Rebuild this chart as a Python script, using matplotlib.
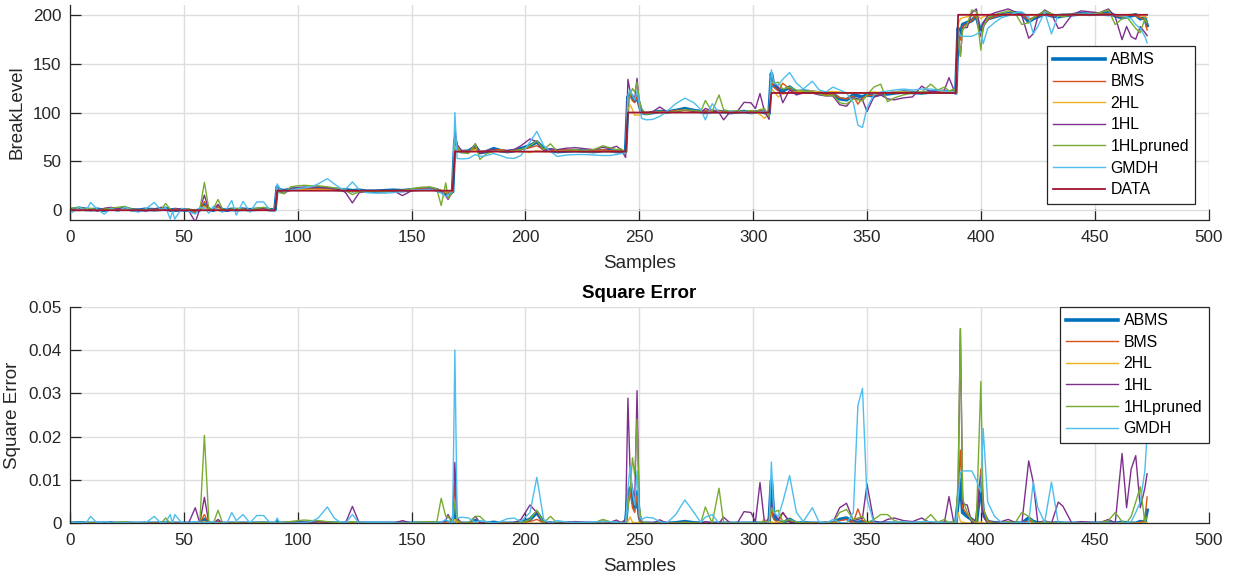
import numpy as np
import matplotlib
matplotlib.use('Agg')
import matplotlib.pyplot as plt

plt.rcParams['font.family'] = ['Liberation Sans', 'DejaVu Sans']

samples = np.array([
    1, 4, 7, 9, 12, 15, 18, 21, 24, 27, 30, 33, 37, 40, 42, 44, 45, 46, 49, 52,
    55, 57, 59, 61, 63, 65, 67, 69, 71, 73, 76, 79, 82, 85, 88, 90,
    91, 92, 94, 97, 100, 103, 106, 109, 113, 116, 119, 121, 124, 127, 130, 134,
    138, 142, 146, 150, 154, 158, 161, 163, 165, 166, 168,
    169, 170, 172, 175, 178, 180, 183, 186, 189, 192, 195, 198, 202, 205, 208,
    211, 214, 218, 222, 226, 230, 234, 237, 240, 242, 244,
    245, 246, 247, 248, 249, 250, 251, 253, 256, 259, 262, 266, 270, 274, 277,
    279, 282, 285, 287, 290, 293, 296, 299, 301, 303, 305, 307,
    308, 309, 311, 313, 316, 319, 322, 326, 329, 332, 335, 338, 341, 344, 346,
    348, 350, 353, 356, 359, 362, 366, 370, 374, 378, 381, 384, 386, 388, 389,
    390, 391, 392, 394, 396, 398, 400, 401, 403, 406, 409, 412, 415, 418, 421,
    423, 425, 428, 431, 434, 436, 440, 444, 448, 452, 456, 459, 462, 464, 466,
    468, 470, 472, 473])

# true break level: step levels and the sample where each starts
data_starts = [1, 91, 169, 245, 308, 390]
data_levels = [0, 20, 60, 100, 120, 200]

abms = [
    1, 2, 1, 0.5, 1, 0, 1.5, 0.5, 2, 0.5, 0, 1, 0.5, 1, 2, 0, 0.5, 0, 0.5, 0,
    -1, 0.5, 6, 1, 0, 3, 0.5, 0, 1, 0.5, 1, 0.5, 1, 1.5, 0.5, 0.5,
    24, 21, 20, 21.5, 22, 22.5, 22, 22.5, 22, 21.5, 21, 21, 20, 20.5, 19.5, 19.5,
    20, 20.5, 20, 21, 21.5, 22, 21, 19, 16, 17, 19,
    72, 62, 60, 60.5, 65, 59, 60, 63, 61, 60, 61, 63, 66, 70, 63,
    61, 60, 60.5, 61, 60.5, 60, 61, 61, 60, 60, 60,
    116, 118, 115, 112, 117, 108, 100, 99, 100, 101, 100.5, 102, 104, 102, 101,
    100, 101, 101, 100.5, 100, 100.5, 101, 100, 100.5, 101, 100, 99,
    139.8, 128, 124, 122, 126, 121, 122, 121, 120, 119, 119, 114, 113, 118, 117,
    116, 118, 117, 119, 119, 120, 121, 120.5, 120, 121, 121, 121, 121, 121, 120,
    186, 180, 190, 192, 194, 199, 180.5, 190, 196, 198, 200, 201, 202, 201, 193,
    196, 198, 201, 199, 198, 199, 200, 201, 200.5, 201, 202, 199, 197, 198, 199,
    200, 196, 197, 189]

bms = [
    0.5, 1, 0, 1, 0.5, 1, 0, 1, 0.5, 1, 0, 0.5, 1, 0, 1, 0.5, 0, 0.5, 0, 1,
    -2, 0, 9, 0.5, 1, 4, 0, 1, 0.5, 0, 1, 0, 0.5, 1, 0, 0.5,
    22, 20, 19, 21, 21.5, 22, 21.5, 22, 21.5, 22, 21, 20.5, 19, 20, 19.5, 20,
    19.5, 20, 20.5, 21, 22, 22.5, 21.5, 20, 17, 18, 20,
    79, 63, 61, 60, 64, 60, 61, 62, 62, 61, 61.5, 62, 64, 66, 62,
    61, 61.5, 62, 61, 60.5, 61, 62, 61, 60.5, 60, 59,
    113, 117, 112, 110, 116, 106, 101, 100, 100.5, 101, 101, 102, 103, 101.5, 101,
    102, 101, 102, 100.5, 100, 100, 101, 100.5, 101, 102, 100, 99,
    132, 126, 122, 130, 124, 120, 122, 120.5, 119, 118.5, 119, 115, 114, 117, 108.5,
    115, 117, 118, 119, 120, 120, 121, 120.5, 120, 121, 121.5, 121, 122, 121, 120,
    184, 174, 188, 191, 194, 200, 177.6, 188, 195, 198, 200, 201, 200, 200, 195,
    197, 199, 200, 199, 199, 200, 200.5, 200, 201, 200.5, 201, 199, 198, 199, 200,
    199, 197, 195, 184.4]

hl2 = [
    0, 0.5, 1, 0, 0.5, 0, 0.5, 0, 1, 0, 0.5, 0, 0.5, 0, 1, 0, 0.5, 0, 0.5, 0,
    0, 0.5, 4, 0, 0.5, 2, 0, 0.5, 0, 0.5, 0, 0.5, 0, 0.5, 0, 0,
    21, 20, 20, 20.5, 21, 21, 21.5, 21, 21, 20.5, 20.5, 20, 20, 20, 19.5, 20,
    20, 20, 20, 20.5, 20.5, 21, 21, 20.5, 19, 19.5, 20,
    66, 61, 60, 60, 62, 60, 60.5, 61, 60.5, 60, 60.5, 60, 59, 61, 60,
    60, 60.5, 61, 60.5, 60, 60, 60.5, 60, 60, 60.5, 60,
    104, 107.7, 103, 97, 98, 97, 99.5, 100, 100, 100, 100, 101, 102, 101, 100.5,
    100, 100.5, 101, 100, 100.5, 100, 100.5, 100, 100, 98, 94, 100,
    124, 122, 116, 119, 120, 121, 121.5, 122, 121, 121, 121.5, 121, 120, 120.5, 120,
    120, 120.5, 121, 120.5, 120, 121, 121, 120.5, 121, 120.5, 121, 121, 121.5, 121, 120,
    190, 196, 197, 198, 199, 200, 196, 198, 199, 200, 200, 200.5, 200, 200.5, 199,
    200, 200, 200.5, 200, 200, 200, 200.5, 200, 200, 200.5, 200, 200, 199, 200, 200.5,
    200, 199, 198, 197]

hl1 = [
    1, 2, 0, 1, -1, 2, 3, 1, 3, 0, 1, -1, 1, 3, 0, 1, 0, 2, 1, 0,
    -12, 1, 15.5, 0, 1, 6, 0, 1, 0, 1, 2, 0, 1, 2, 0, 1,
    23, 19, 17, 22, 23, 23.5, 23, 24, 23, 22, 21, 18, 7.5, 18, 19, 20,
    19, 20, 15, 20, 21, 22, 21, 20, 15, 11, 19,
    83.7, 67, 61, 59, 68, 58, 61, 62, 60, 61, 62, 66, 73, 70, 61,
    63, 62, 63.5, 64, 63, 62, 64.5, 63, 65.5, 62, 54,
    134, 121, 118, 114, 135, 110, 102, 99, 101, 105.7, 101, 100, 103, 101, 100,
    104, 102, 100, 92.5, 101, 101, 110.4, 110, 104, 119.4, 101, 93,
    134, 130, 126, 110, 123, 118, 120, 120, 118, 117, 117, 108, 106.4, 115, 114,
    113, 101, 116, 118, 114, 113, 115, 116, 127, 121, 122, 123, 135.7, 124, 121,
    182, 157.6, 186.5, 187, 202, 206, 179, 192, 199, 202, 204, 206, 203, 199, 176,
    180.5, 198, 205, 201, 186, 187.4, 200, 204, 203, 202, 206, 198, 174.6, 188, 177.6,
    175, 188, 182, 178.6]

hl1_pruned = [
    2, 3, 1, 2, 0, 1, 2, 3, 4, 1, 0, 1, 0, 1, 7, 1, 0, 1, 0, 1,
    0, 1, 28.5, 1, 2, 11, 1, 0, 1, 2, 1, 0, 2, 3, 1, 0,
    22, 18, 17, 24, 25, 25.5, 25, 25, 24, 23, 22, 20, 16, 19, 19, 19.5,
    19, 20, 20, 22, 23.5, 24, 22, 4.8, 28, 12, 19,
    74, 65, 59, 58, 68, 52, 58, 60, 61, 60, 61, 62, 66, 71, 62,
    68, 60, 61, 62, 61, 62, 66, 64, 62, 63, 58,
    112, 118, 124.6, 121, 131, 112, 104, 98, 100, 101, 100, 101, 103, 102, 101,
    112.3, 101, 118, 103, 101, 102, 101, 102, 101, 103, 104, 96,
    132, 130, 131, 124, 126, 123, 122, 121, 119, 117, 118, 110, 108.7, 114, 113,
    112, 118, 126, 129, 111, 115, 118, 120, 121, 129, 123, 126, 122, 124, 121,
    180, 157.6, 185, 190, 205, 203, 163.8, 188, 197, 200, 202, 204, 202, 190, 192,
    197, 200, 204, 201, 199, 198, 200, 201, 200.5, 202, 205, 190, 196, 198, 192,
    186, 181.6, 196, 192]

gmdh = [
    -2, 3, -1, 8, 1, -4, 2, -1, 3, 0, -2, 1, 8, 0, 3, -9, -1, -9, 2, -1,
    -4, 3, 2, -3, 4, 0, -2, 2, 10, -5, 9, -2, 8.5, 8.5, -1, 2,
    27, 22, 19, 21, 22, 23, 24, 27, 32.3, 27, 22, 21.5, 29, 21, 18, 17.5,
    17.5, 18, 19.5, 20.5, 21, 21.5, 20, 18, 14, 16, 20,
    100, 53, 52.5, 53, 57, 55, 56, 58, 56, 53.5, 53, 56, 70, 80.6, 66,
    60, 55, 56.5, 57, 57, 56.5, 56, 56, 57, 58, 59,
    118, 123, 117, 113, 122, 108, 94, 92.5, 93, 96, 101, 109, 114.7, 110, 103,
    92.5, 109, 100, 99, 101, 100, 101, 99.5, 100, 100.5, 101, 100,
    143.8, 130, 128, 134, 141, 130, 124, 132, 123, 121, 126, 123, 120, 110, 87,
    84.7, 105, 118, 121, 122, 123, 124, 123, 124, 124, 123, 122, 121, 121, 120,
    185, 178.4, 178, 178, 178, 180, 183, 170.4, 186, 192, 197, 199, 202, 203, 198,
    180.5, 188, 203, 180.5, 200, 201, 200, 200.5, 201, 200, 199, 200, 199, 198, 196,
    190, 186, 178, 171.4]

data = np.array(data_levels, dtype=float)[np.searchsorted(data_starts, samples, side='right') - 1]
level_range = max(data_levels) - min(data_levels)

series = [
    ('ABMS', abms, '#0072BD', 2.6),
    ('BMS', bms, '#D95319', 1.0),
    ('2HL', hl2, '#EDB120', 1.0),
    ('1HL', hl1, '#7E2F8E', 1.0),
    ('1HLpruned', hl1_pruned, '#77AC30', 1.0),
    ('GMDH', gmdh, '#4DBEEE', 1.0),
]

fig = plt.figure(figsize=(12.33, 5.71), dpi=100)
ax1 = fig.add_axes([0.0568, 0.6147, 0.9234, 0.3765])
ax2 = fig.add_axes([0.0568, 0.0835, 0.9234, 0.3793])

for name, vals, color, lw in series:
    ax1.plot(samples, vals, color=color, lw=lw, label=name)
ax1.plot(samples, data, color='#A2142F', lw=1.3, label='DATA')

for name, vals, color, lw in series:
    err = ((np.array(vals, dtype=float) - data) / level_range) ** 2
    ax2.plot(samples, err, color=color, lw=lw, label=name)

dark = '#262626'
for ax in (ax1, ax2):
    ax.set_xlim(0, 500)
    ax.set_xticks(np.arange(0, 501, 50))
    ax.grid(True, color='#dedede', lw=1.0)
    ax.set_axisbelow(True)
    for side in ('top', 'right'):
        ax.spines[side].set_visible(False)
    for side in ('left', 'bottom'):
        ax.spines[side].set_color(dark)
        ax.spines[side].set_linewidth(0.9)
    ax.tick_params(direction='in', length=8, width=0.9, colors=dark, labelsize=12.3)
    ax.tick_params(axis='x', pad=7)
    ax.tick_params(axis='y', pad=6)
    ax.set_xlabel('Samples', fontsize=13.5, color=dark)

ax1.set_ylim(-10, 210)
ax1.set_yticks(np.arange(0, 201, 50))
ax1.set_ylabel('BreakLevel', fontsize=13.5, color=dark)
ax1.xaxis.set_label_coords(0.5, -0.165)
ax1.yaxis.set_label_coords(-0.039, 0.5)

ax2.set_ylim(0, 0.05)
ax2.set_yticks([0, 0.01, 0.02, 0.03, 0.04, 0.05])
ax2.set_yticklabels(['0', '0.01', '0.02', '0.03', '0.04', '0.05'])
ax2.set_ylabel('Square Error', fontsize=13.5, color=dark)
ax2.xaxis.set_label_coords(0.5, -0.16)
ax2.yaxis.set_label_coords(-0.043, 0.5)
ax2.set_title('Square Error', fontsize=13.5, fontweight='bold', pad=6)

legend_kw = dict(fontsize=11.4, handlelength=3.3, handletextpad=0.33,
                 labelspacing=0.42, borderpad=0.4, fancybox=False,
                 framealpha=1, edgecolor=dark, borderaxespad=0)
leg1 = ax1.legend(loc='upper left', bbox_to_anchor=(0.8577, 0.809), **legend_kw)
leg2 = ax2.legend(loc='upper right', bbox_to_anchor=(1.0, 1.0), **legend_kw)
for leg in (leg1, leg2):
    leg.get_frame().set_linewidth(0.9)

fig.savefig('out.png', dpi=100)
